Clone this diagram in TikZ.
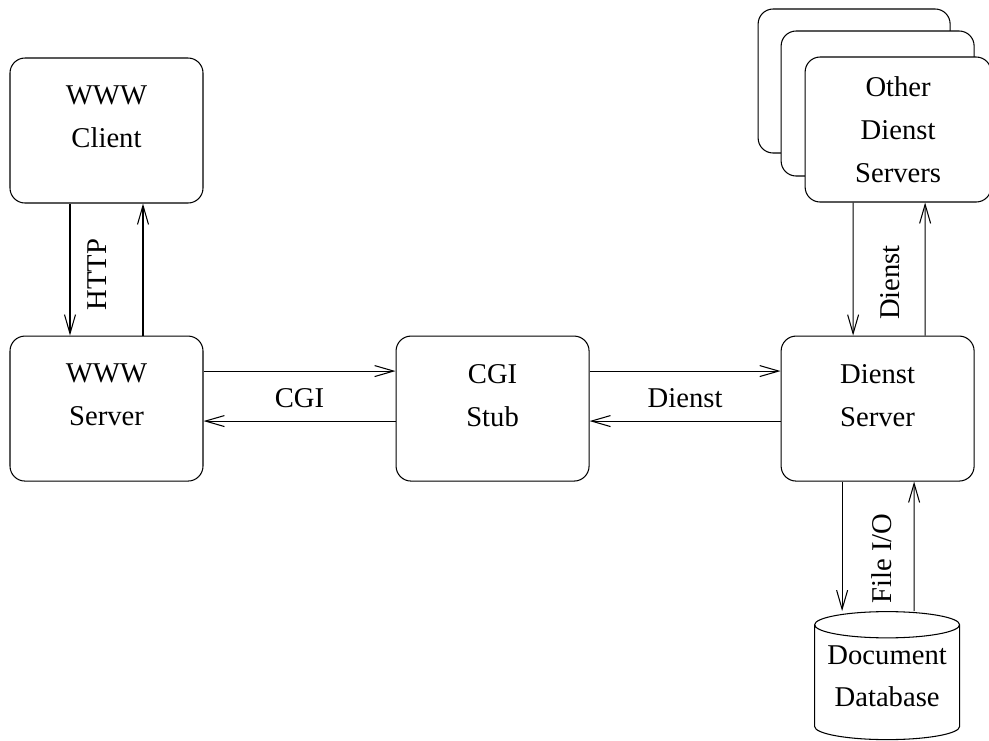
\documentclass[tikz,border=0pt]{standalone}
\usepackage{fontspec}
\setmainfont{Liberation Serif}
\usepackage{tikz}
\usetikzlibrary{shapes.geometric,positioning,calc,arrows.meta}
\tikzset{>={Straight Barb[length=3.8mm,width=2.2mm]}}

\begin{document}
\begin{tikzpicture}[
roundednode/.style={rectangle, rounded corners=3mm, draw=black, fill=white, line width=0.6pt, align=center, minimum width=38.6mm, minimum height=29mm, text depth=5.4mm, font=\fontsize{16.3}{24.5}\selectfont},
stacknode/.style={roundednode, text depth=0mm},
dbnode/.style={cylinder, shape border rotate=90, aspect=0.22, inner sep=0pt, draw=black, line width=0.6pt, align=center, minimum width=29mm, minimum height=25.6mm, text depth=2.6mm, font=\fontsize{16.3}{24}\selectfont},
labelnode/.style={font=\fontsize{16.3}{24.5}\selectfont},
line/.style={->, line width=0.6pt},
]
\useasboundingbox (0,0) rectangle (19.78,-14.8);
%Nodes
\node[roundednode](WWW Client) at (2.13,-2.61){WWW\\Client};
\node[roundednode](WWW Server)[below=26.4mm of WWW Client]{WWW\\Server};
\node[roundednode](CGI Stub)[right=38.4mm of WWW Server]{CGI\\Stub};
\node[roundednode](Dienst Server)[right=38.2mm of CGI Stub]{Dienst\\Server};

\node[stacknode, minimum width=38.4mm, minimum height=28.8mm](Other Dienst Servers 3)[above=36.4mm of Dienst Server, xshift=-4.7mm]{};
\node[stacknode](Other Dienst Servers 2)[above=31.8mm of Dienst Server]{};
\node[stacknode, minimum width=37.2mm](Other Dienst Servers)[above=26.6mm of Dienst Server, xshift=4.1mm]{Other\\Dienst\\Servers};

\node[dbnode](Document Database)[below=25.9mm of Dienst Server, xshift=1.9mm]{Document\\Database};

%Lines
\draw[line] ([xshift=-7.3mm]WWW Client.south) -- ([xshift=-7.3mm]WWW Server.north);
\draw[line] ([xshift=7.3mm]WWW Server.north) -- ([xshift=7.3mm]WWW Client.south);

\draw[line] ([yshift=7.5mm]WWW Server.east) -- ([yshift=7.5mm]CGI Stub.west);
\draw[line] ([yshift=-2.5mm]CGI Stub.west) -- ([yshift=-2.5mm]WWW Server.east);

\draw[line] ([yshift=7.5mm]CGI Stub.east) -- ([yshift=7.5mm]Dienst Server.west);
\draw[line] ([yshift=-2.5mm]Dienst Server.west) -- ([yshift=-2.5mm]CGI Stub.east);

\draw[line] ([xshift=-9mm]Other Dienst Servers.south) -- ([xshift=-4.9mm]Dienst Server.north);
\draw[line] ([xshift=9.5mm]Dienst Server.north) -- ([xshift=5.4mm]Other Dienst Servers.south);

\draw[line] ([xshift=-7.1mm]Dienst Server.south) -- ([xshift=-9mm]Document Database.north);
\draw[line] ([xshift=5.4mm]Document Database.north) -- ([xshift=7.3mm]Dienst Server.south);

%Labels
\node[labelnode, rotate=90](HTTP) at ($(WWW Client.south)!0.5!(WWW Server.north)+(-1.8mm,-1mm)$){HTTP};
\node[labelnode](CGI) at ($(WWW Server.east)!0.5!(CGI Stub.west)+(0,2.1mm)$){CGI};
\node[labelnode](Dienst) at ($(CGI Stub.east)!0.5!(Dienst Server.west)+(0,2.1mm)$){Dienst};
\node[labelnode, rotate=90](Dienst up) at ($(Other Dienst Servers.south)!0.5!(Dienst Server.north)+(0.4mm,-2.7mm)$){Dienst};
\node[labelnode, rotate=90](File IO) at ($(Dienst Server.south)!0.5!(Document Database.north)+(-0.2mm,-2.4mm)$){File I/O};
\end{tikzpicture}
\end{document}
